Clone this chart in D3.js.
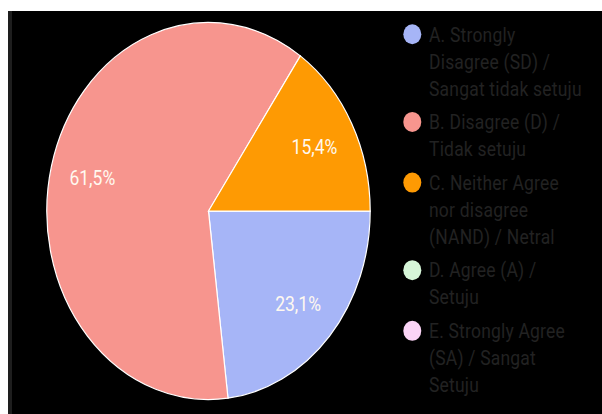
<!DOCTYPE html>
<html>
<head>
<meta charset="utf-8">
<script src="https://cdn.jsdelivr.net/npm/d3@7"></script>
<style>
  html, body { margin: 0; padding: 0; background: #fff; }
  svg { display: block; }
  text { font-family: Roboto, "Noto Sans", sans-serif; }
</style>
</head>
<body>
<svg id="chart" width="602" height="414"></svg>
<script>
// Survey responses per answer option
const categories = [
  "A. Strongly Disagree (SD) / Sangat tidak setuju",
  "B. Disagree (D) / Tidak setuju",
  "C. Neither Agree nor disagree (NAND) / Netral",
  "D. Agree (A) / Setuju",
  "E. Strongly Agree (SA) / Sangat Setuju"
];
const legendLines = [
  ["A. Strongly", "Disagree (SD) /", "Sangat tidak setuju"],
  ["B. Disagree (D) /", "Tidak setuju"],
  ["C. Neither Agree", "nor disagree", "(NAND) / Netral"],
  ["D. Agree (A) /", "Setuju"],
  ["E. Strongly Agree", "(SA) / Sangat", "Setuju"]
];
const counts = [3, 8, 2, 0, 0];
const colors = ["#a6b5f7", "#f7958e", "#fe9a03", "#d6f6d8", "#fbd4f6"];

const W = 602, H = 414;
const sy = 1.166;           // vertical stretch of the whole drawing
const cx = 208.5, cy = 181, R = 161.7;

const svg = d3.select("#chart");

// frame: black panel with a light margin at top and left
svg.append("rect").attr("x", 0).attr("y", 0).attr("width", W).attr("height", H).attr("fill", "#fff");
svg.append("rect").attr("x", 8).attr("y", 11).attr("width", W - 8).attr("height", H - 11).attr("fill", "#1e1e1e");
svg.append("rect").attr("x", 12).attr("y", 11).attr("width", W - 12).attr("height", H - 11).attr("fill", "#000");

const g = svg.append("g").attr("transform", `scale(1,${sy})`);

const total = d3.sum(counts);
const pie = d3.pie().sort(null).value(d => d)
  .startAngle(Math.PI / 2).endAngle(Math.PI / 2 + 2 * Math.PI);
const arcs = pie(counts);
const arc = d3.arc().innerRadius(0).outerRadius(R);
const labelArc = d3.arc().innerRadius(R * 0.74).outerRadius(R * 0.74);

const pieG = g.append("g").attr("transform", `translate(${cx},${cy})`);
pieG.selectAll("path")
  .data(arcs.filter(a => a.value > 0))
  .join("path")
  .attr("d", arc)
  .attr("fill", d => colors[d.index])
  .attr("stroke", "#ffffff")
  .attr("stroke-width", 1.2)
  .attr("vector-effect", "non-scaling-stroke");

const fmt = v => d3.format(".1f")(v).replace(".", ",") + "%";
pieG.selectAll("text.pct")
  .data(arcs.filter(a => a.value > 0))
  .join("text")
  .attr("class", "pct")
  .attr("transform", d => `translate(${labelArc.centroid(d)})`)
  .attr("text-anchor", "middle")
  .attr("dy", "0.36em")
  .attr("fill", "#fff9f0")
  .attr("font-size", 17.5)
  .text(d => fmt(d.value / total * 100));

// legend
const lineH = 23.15, gap = 5.7;
let y = 29.4;
const legend = g.append("g");
legendLines.forEach((lines, i) => {
  const item = legend.append("g");
  item.append("ellipse")
    .attr("cx", 412.3).attr("cy", y)
    .attr("rx", 9).attr("ry", 8.6)
    .attr("fill", colors[i]);
  const t = item.append("text")
    .attr("x", 429).attr("y", y + 6.3)
    .attr("fill", "#222222")
    .attr("font-size", 17.5)
    .attr("letter-spacing", 0.2);
  lines.forEach((ln, j) => {
    t.append("tspan").attr("x", 429).attr("y", y + 6.3 + j * lineH).text(ln);
  });
  y += lines.length * lineH + gap;
});
</script>
</body>
</html>
